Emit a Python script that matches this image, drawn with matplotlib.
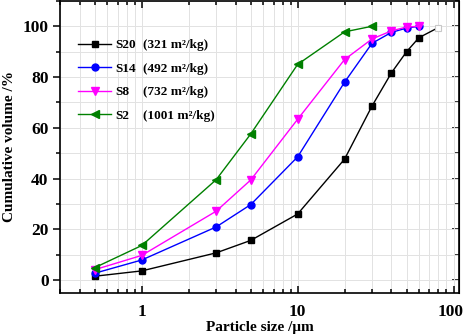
import matplotlib
matplotlib.use("Agg")
import matplotlib.pyplot as plt
import matplotlib.transforms as mtransforms
from matplotlib.ticker import MultipleLocator, LogLocator, FixedLocator, NullFormatter, FuncFormatter

plt.rcParams['font.family'] = ['Liberation Serif', 'DejaVu Serif']
plt.rcParams['font.weight'] = 'bold'

# Datos
size_um = [0.5, 1, 3, 5, 10, 20, 30, 40, 50, 60, 80]
s20 = [1.6, 3.7, 10.8, 15.7, 26.1, 47.7, 68.6, 81.7, 90.0, 95.5, 99.5]
s14 = [2.8, 8.0, 21.0, 29.8, 48.6, 78.0, 93.3, 97.6, 99.3, 100.0]
s8 = [4.2, 9.8, 27.2, 39.5, 63.4, 86.9, 95.0, 98.2, 99.7, 100.0]
s2 = [5.0, 13.7, 39.6, 57.6, 85.0, 97.8, 100.0]

etiquetas = ['S20', 'S14', 'S8', 'S2']
areas = ['(321 m²/kg)', '(492 m²/kg)', '(732 m²/kg)', '(1001 m²/kg)']
colores = ['black', '#0000ff', '#ff00ff', '#008000']
marcadores = ['s', 'o', 'v', '<']
tamanos = [4.2, 5.0, 5.8, 5.8]

fig = plt.figure(figsize=(4.64, 3.35), dpi=100)
ax = fig.add_axes([0.130, 0.1254, 0.8586, 0.872])

series = [s20, s14, s8, s2]
handles = []
for y, c, m, ms, lab in zip(series, colores, marcadores, tamanos, etiquetas):
    x = size_um[:len(y)]
    if lab == 'S20':
        # el ultimo punto casi no se ve en la figura original
        h, = ax.plot(x, y, color=c, marker=m, markersize=ms, linewidth=1.0,
                     markevery=list(range(len(y) - 1)), label=lab)
        ax.plot(x[-1:], y[-1:], linestyle='none', marker=m, markersize=ms,
                mfc='white', mec='#c8c8c8', mew=0.8)
    else:
        h, = ax.plot(x, y, color=c, marker=m, markersize=ms, linewidth=1.0, label=lab)
    handles.append(h)

ax.set_xscale('log')
ax.set_xlim(0.3, 108)
ax.set_ylim(-5, 110)

ax.xaxis.set_major_locator(FixedLocator([1, 10, 100]))
ax.xaxis.set_major_formatter(FuncFormatter(lambda v, p: f'{v:g}'))
ax.xaxis.set_minor_locator(LogLocator(base=10, subs=range(2, 10)))
ax.xaxis.set_minor_formatter(NullFormatter())
ax.yaxis.set_major_locator(FixedLocator([0, 20, 40, 60, 80, 100]))
ax.yaxis.set_minor_locator(MultipleLocator(10))

ax.grid(True, which='both', color='#e2e2e2', linewidth=0.7)
ax.set_axisbelow(True)

ax.tick_params(axis='x', which='both', direction='in', top=True, labelsize=12.5, width=1.1, pad=8)
ax.tick_params(axis='x', which='major', length=5)
ax.tick_params(axis='x', which='minor', length=3)
ax.tick_params(axis='y', which='both', direction='out', labelsize=12.5, width=1.1)
ax.tick_params(axis='y', which='major', length=5)
ax.tick_params(axis='y', which='minor', length=3)
for s in ax.spines.values():
    s.set_linewidth(1.2)

# ticks de la derecha hacia adentro
ay = ax.secondary_yaxis('right')
ay.yaxis.set_major_locator(FixedLocator([0, 20, 40, 60, 80, 100]))
ay.yaxis.set_minor_locator(MultipleLocator(10))
ay.tick_params(which='both', direction='in', labelright=False, width=1.1)
ay.tick_params(which='major', length=5)
ay.tick_params(which='minor', length=3)

# correr un poco el "100" para que no quede cortado
fig.canvas.draw()
desplazo = mtransforms.ScaledTranslation(-3 / 100, 0, fig.dpi_scale_trans)
ultimo = ax.get_xticklabels()[-1]
ultimo.set_transform(ultimo.get_transform() + desplazo)

ax.set_xlabel('Particle size /μm', fontsize=11, fontweight='bold', labelpad=1)
ax.set_ylabel('Cumulative volume /%', fontsize=11, fontweight='bold', labelpad=5)

leg1 = ax.legend(handles=handles, labels=etiquetas, loc='upper left',
                 bbox_to_anchor=(0.015, 0.91), frameon=False,
                 handlelength=2.5, handletextpad=0.3, labelspacing=0.85,
                 prop={'weight': 'bold', 'size': 9.5})
ax.add_artist(leg1)
vacios = [plt.Line2D([], [], linestyle='none') for _ in areas]
ax.legend(handles=vacios, labels=areas, loc='upper left',
          bbox_to_anchor=(0.178, 0.91), frameon=False,
          handlelength=0, handletextpad=0, labelspacing=0.85,
          prop={'weight': 'bold', 'size': 9.5})

fig.savefig('out.png', dpi=100)
